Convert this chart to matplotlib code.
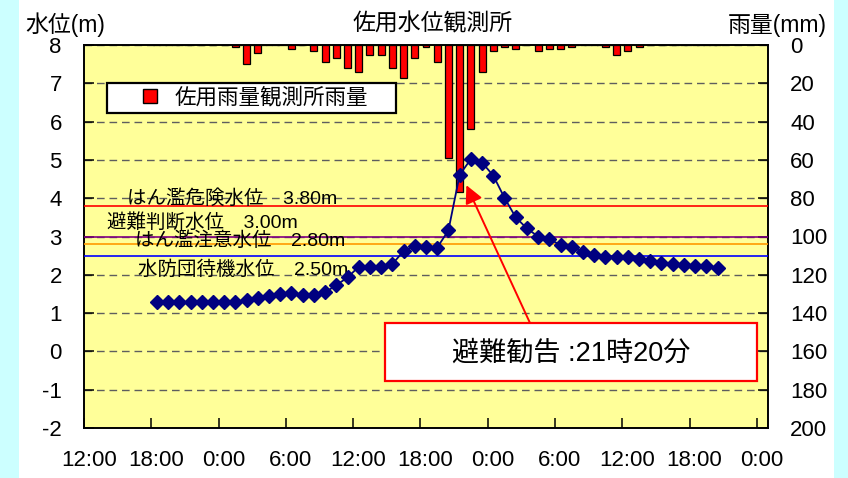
import numpy as np
import matplotlib
matplotlib.use('Agg')
import matplotlib.pyplot as plt
from matplotlib.lines import Line2D
from matplotlib.patches import Rectangle
from matplotlib.transforms import ScaledTranslation

plt.rcParams['font.family'] = ['Liberation Sans', 'Noto Sans CJK JP', 'DejaVu Sans']
plt.rcParams['axes.unicode_minus'] = False

# ---------------- data ----------------
title = '佐用水位観測所'
left_label = '水位(m)'
right_label = '雨量(mm)'
legend_label = '佐用雨量観測所雨量'
x_tick_labels = ['12:00', '18:00', '0:00', '6:00', '12:00', '18:00',
                 '0:00', '6:00', '12:00', '18:00', '0:00']

# hourly water level (m), first value at about 18:30 of day 1
water_level = [1.28, 1.28, 1.28, 1.28, 1.28, 1.28, 1.28, 1.30, 1.34, 1.40,
               1.45, 1.49, 1.52, 1.47, 1.47, 1.54, 1.73, 1.93, 2.21, 2.21,
               2.21, 2.28, 2.62, 2.75, 2.72, 2.71, 3.16, 4.61, 5.02, 4.93,
               4.59, 4.01, 3.50, 3.21, 3.00, 2.93, 2.78, 2.72, 2.60, 2.52,
               2.47, 2.46, 2.46, 2.41, 2.36, 2.32, 2.28, 2.26, 2.24, 2.23,
               2.19]

# hourly rainfall (mm), same hours as water_level
rainfall = [0, 0, 0, 0, 0, 0, 0, 1, 10, 4,
            0, 0, 2, 0, 3, 9, 7, 12, 14, 5,
            5, 12, 17, 7, 1, 9, 59, 77, 44, 14,
            3, 1, 2, 0, 3, 2, 2, 1, 0, 0,
            1, 5, 3, 1, 0, 0, 0, 0, 0, 0,
            0]

threshold_names = ['はん濫危険水位', '避難判断水位', 'はん濫注意水位', '水防団待機水位']
threshold_values = [3.80, 3.00, 2.80, 2.50]
note_text = '避難勧告 :21時20分'

# ---------------- styles / layout ----------------
threshold_colors = ['#FF0000', '#800080', '#FF9900', '#0000FF']
threshold_label_x = [3.83, 2.05, 4.54, 4.81]      # category units
threshold_label_y = [3.98, 3.37, 2.89, 2.13]      # label centre level

W, H = 848, 478
fig = plt.figure(figsize=(W / 100, H / 100), dpi=100)
fig.patch.set_facecolor('white')
fig.patches.append(Rectangle((0, 0), 19 / W, 1, transform=fig.transFigure,
                             facecolor='#CCFFFF', edgecolor='none', zorder=-5))
fig.patches.append(Rectangle((834 / W, 0), 14 / W, 1, transform=fig.transFigure,
                             facecolor='#CCFFFF', edgecolor='none', zorder=-5))

L, R, T, B = 84, 768, 45, 428
ax_rain = fig.add_axes([L / W, 1 - B / H, (R - L) / W, (B - T) / H])
ax = ax_rain.twinx()
ax_rain.set_facecolor('#FFFF99')

# swap sides: water on the left, rain on the right
ax.yaxis.tick_left()
ax.yaxis.set_label_position('left')
ax_rain.yaxis.tick_right()
ax_rain.yaxis.set_label_position('right')

n = len(water_level)
x = np.arange(n) + 6.5

# rain bars
ax_rain.bar(x, rainfall, width=0.62, color='#FF0000', edgecolor='black',
            linewidth=0.9, zorder=2)
ax_rain.set_ylim(200, 0)
ax_rain.set_yticks(np.arange(0, 201, 20))
ax_rain.set_xlim(0, 61)
ax_rain.set_xticks(np.arange(0, 61, 6))
ax_rain.set_xticklabels(x_tick_labels)
ax_rain.yaxis.grid(True, linestyle=(0, (5.5, 3.5)), color='#5E5E5E', linewidth=1.0)
ax_rain.set_axisbelow(True)

# water level
ax.set_ylim(-2, 8)
ax.set_yticks(np.arange(-2, 9, 1))
for v, c in zip(threshold_values, threshold_colors):
    ax.axhline(v, color=c, linewidth=1.2, zorder=3)
for name, v, lx, ly in zip(threshold_names, threshold_values,
                           threshold_label_x, threshold_label_y):
    ax.text(lx, ly, f'{name}\u3000{v:.2f}m', fontsize=14, ha='left',
            va='center', color='black', zorder=4)

ax.plot(x, water_level, color='#000080', linewidth=1.3, marker='D',
        markersize=7.5, markerfacecolor='#000080', markeredgecolor='#000080',
        zorder=5)

# ticks
for a in (ax, ax_rain):
    a.tick_params(axis='y', direction='in', length=7, width=1.1, pad=16,
                  labelsize=16, colors='black')
    for s in a.spines.values():
        s.set_linewidth(1.2)
        s.set_color('black')
ax_rain.tick_params(axis='x', direction='in', length=7, width=1.1, pad=16,
                    labelsize=16)
for lab in ax_rain.get_xticklabels():
    lab.set_transform(lab.get_transform() + ScaledTranslation(5 / 100, 0, fig.dpi_scale_trans))

# legend
handle = Line2D([], [], marker='s', linestyle='none', markerfacecolor='#FF0000',
                markeredgecolor='black', markeredgewidth=1.0, markersize=10)
leg = ax.legend([handle], [legend_label], loc='upper left',
                bbox_to_anchor=((107 - L) / (R - L), (B - 119) / (B - T),
                                (396 - 107) / (R - L), 36 / (B - T)),
                mode='expand', borderaxespad=0, borderpad=0.2,
                handlelength=3.58, handletextpad=-0.63, fontsize=15.5,
                fancybox=False, framealpha=1, edgecolor='black')
leg.get_frame().set_linewidth(1.6)
leg.set_zorder(8)

# annotation box + arrow
ax.add_patch(Rectangle(((385 - L) / (R - L), (B - 381) / (B - T)),
                       (757 - 385) / (R - L), (381 - 323) / (B - T),
                       transform=ax.transAxes, facecolor='white',
                       edgecolor='#FF0000', linewidth=1.6, zorder=7))
ax.text((571 - L) / (R - L), (B - 354) / (B - T), note_text, transform=ax.transAxes,
        ha='center', va='center', fontsize=19.5, zorder=8)
ax.annotate('', xy=(34.1, 4.34), xycoords='data',
            xytext=((530 - L) / (R - L), (B - 323) / (B - T)), textcoords='axes fraction',
            arrowprops=dict(arrowstyle='-|>,head_length=0.6,head_width=0.3',
                            mutation_scale=18, color='#FF0000', linewidth=1.4,
                            shrinkA=0, shrinkB=0), zorder=7)

# titles
fig.text(433 / W, 1 - 24 / H, title, ha='center', va='center', fontsize=16.5)
fig.text(65 / W, 1 - 25 / H, left_label, ha='center', va='center', fontsize=16.5)
fig.text(777 / W, 1 - 25 / H, right_label, ha='center', va='center', fontsize=16.5)

fig.savefig('out.png', dpi=100)
